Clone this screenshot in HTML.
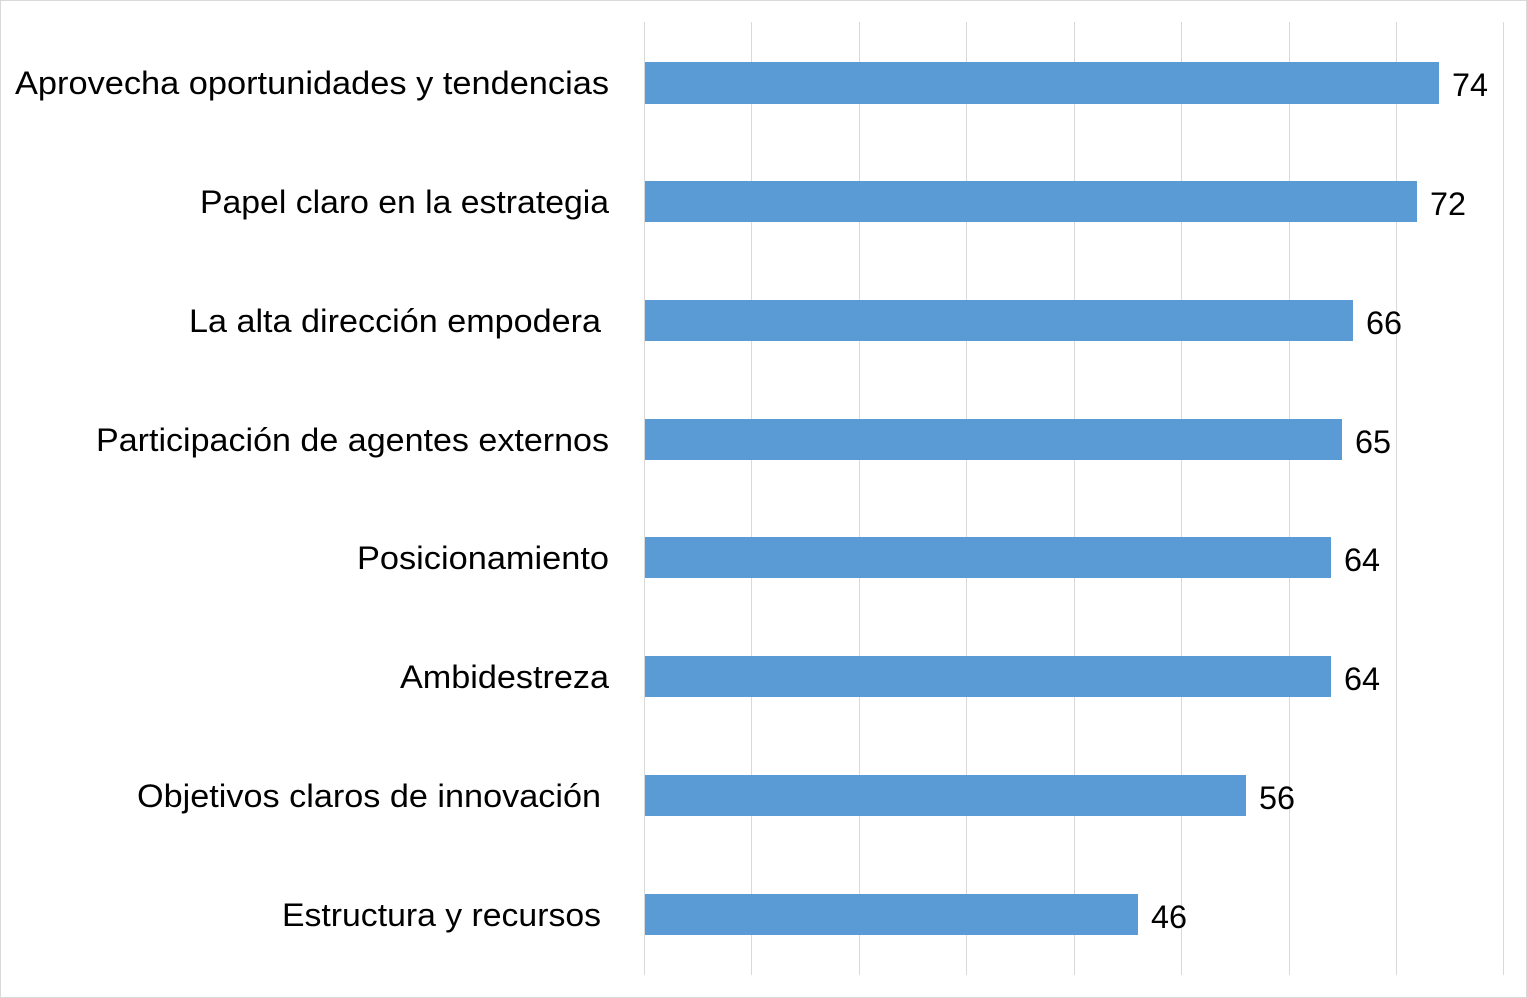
<!DOCTYPE html>
<html><head><meta charset="utf-8"><style>
html,body{margin:0;padding:0;background:#fff}
svg{display:block}
text{font-family:"Liberation Sans",sans-serif;font-size:32px;fill:#000}
</style></head><body>
<svg width="1527" height="998" viewBox="0 0 1527 998">
<rect x="0.5" y="0.5" width="1526" height="997" fill="#fff" stroke="#d9d9d9"/>
<g stroke="#d9d9d9" stroke-width="1">
<line x1="644.5" y1="22" x2="644.5" y2="975"/>
<line x1="751.5" y1="22" x2="751.5" y2="975"/>
<line x1="859.5" y1="22" x2="859.5" y2="975"/>
<line x1="966.5" y1="22" x2="966.5" y2="975"/>
<line x1="1074.5" y1="22" x2="1074.5" y2="975"/>
<line x1="1181.5" y1="22" x2="1181.5" y2="975"/>
<line x1="1289.5" y1="22" x2="1289.5" y2="975"/>
<line x1="1396.5" y1="22" x2="1396.5" y2="975"/>
<line x1="1503.5" y1="22" x2="1503.5" y2="975"/>
</g>
<g fill="#5b9bd5">
<rect x="645" y="62" width="794" height="42"/>
<rect x="645" y="181" width="772" height="41"/>
<rect x="645" y="300" width="708" height="41"/>
<rect x="645" y="419" width="697" height="41"/>
<rect x="645" y="537" width="686" height="41"/>
<rect x="645" y="656" width="686" height="41"/>
<rect x="645" y="775" width="601" height="41"/>
<rect x="645" y="894" width="493" height="41"/>
</g>
<g>
<text x="15" y="94" textLength="594" lengthAdjust="spacingAndGlyphs">Aprovecha oportunidades y tendencias</text>
<text x="200" y="213" textLength="409" lengthAdjust="spacingAndGlyphs">Papel claro en la estrategia</text>
<text x="189" y="332" textLength="412" lengthAdjust="spacingAndGlyphs">La alta dirección empodera</text>
<text x="96" y="451" textLength="513" lengthAdjust="spacingAndGlyphs">Participación de agentes externos</text>
<text x="357" y="569" textLength="252" lengthAdjust="spacingAndGlyphs">Posicionamiento</text>
<text x="400" y="688" textLength="209" lengthAdjust="spacingAndGlyphs">Ambidestreza</text>
<text x="137" y="807" textLength="464" lengthAdjust="spacingAndGlyphs">Objetivos claros de innovación</text>
<text x="282" y="926" textLength="319" lengthAdjust="spacingAndGlyphs">Estructura y recursos</text>
</g>
<g>
<text x="1452" y="96" textLength="36" lengthAdjust="spacingAndGlyphs">74</text>
<text x="1430" y="215" textLength="36" lengthAdjust="spacingAndGlyphs">72</text>
<text x="1366" y="334" textLength="36" lengthAdjust="spacingAndGlyphs">66</text>
<text x="1355" y="453" textLength="36" lengthAdjust="spacingAndGlyphs">65</text>
<text x="1344" y="571" textLength="36" lengthAdjust="spacingAndGlyphs">64</text>
<text x="1344" y="690" textLength="36" lengthAdjust="spacingAndGlyphs">64</text>
<text x="1259" y="809" textLength="36" lengthAdjust="spacingAndGlyphs">56</text>
<text x="1151" y="928" textLength="36" lengthAdjust="spacingAndGlyphs">46</text>
</g>
</svg>
</body></html>
